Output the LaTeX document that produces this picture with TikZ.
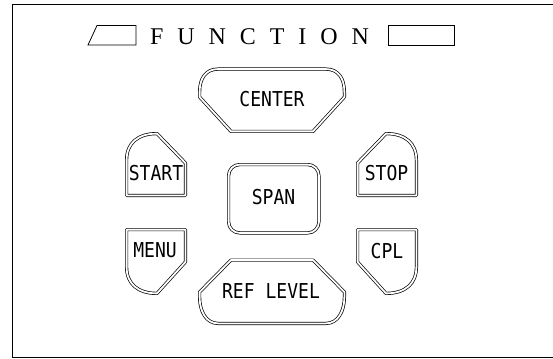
\documentclass[tikz,border=0pt]{standalone}
\usepackage{fontspec}
\setmainfont{Liberation Serif}
\newfontfamily\btnfont[FakeStretch=0.88]{DejaVu Sans Mono}
\newfontfamily\titlefont[LetterSpace=58]{Liberation Serif}
\begin{document}
\begin{tikzpicture}[x=1pt,y=-1pt,
  btn/.style={draw=black, double=white, double distance=1.8pt, line width=0.7pt, line join=round},
  lbl/.style={font=\btnfont\fontsize{20.5}{20.5}\selectfont, inner sep=0pt},
  thinline/.style={draw=black, line width=0.8pt}]
\useasboundingbox (0,0) rectangle (553,358);
\fill[white] (0,0) rectangle (553,358);
% frame
\draw[line width=0.9pt] (556,4.5) -- (12,4.5) -- (12,357) -- (556,357);
% title
\draw[thinline] (88,45) -- (97,25.5) -- (136,25.5) -- (136,45) -- cycle;
\draw[thinline] (388,25.5) rectangle (454,45.5);
\node[anchor=base west, inner sep=0pt, font=\titlefont\fontsize{24}{24}\selectfont] (title) at (150,45) {FUNCTION};
% CENTER
\draw[btn] (231,131.4) -- (313,131.4) -- (344.4,97) -- (344.4,92)
  .. controls (344.4,78) and (338,69.1) .. (326,69.1) -- (218,69.1)
  .. controls (206,69.1) and (199.6,78) .. (199.6,92) -- (199.6,97) -- cycle;
\node[lbl] (center) at (272,99) {CENTER};
% REF LEVEL
\draw[btn] (231,260.1) -- (313,260.1) -- (344.4,292) -- (344.4,297)
  .. controls (344.4,311) and (338,323.4) .. (326,323.4) -- (218,323.4)
  .. controls (206,323.4) and (199.6,311) .. (199.6,297) -- (199.6,292) -- cycle;
\node[lbl] (reflevel) at (271,291.5) {REF LEVEL};
% SPAN
\draw[btn, rounded corners=11pt] (228.6,164.6) rectangle (318.9,232.9);
\node[lbl] (span) at (273.5,197) {SPAN};
% START
\draw[btn] (126.6,195.4) -- (185.4,195.4) -- (185.4,163) -- (157,133.6)
  .. controls (138,133.6) and (126.6,143) .. (126.6,160) -- cycle;
\node[lbl] (start) at (156,173.5) {START};
% STOP
\draw[btn] (416.4,195.4) -- (357.6,195.4) -- (357.6,163) -- (386,133.6)
  .. controls (405,133.6) and (416.4,143) .. (416.4,160) -- cycle;
\node[lbl] (stop) at (386.5,173.5) {STOP};
% MENU
\draw[btn] (126.6,229.6) -- (185.4,229.6) -- (185.4,262) -- (157,293.4)
  .. controls (138,293.4) and (126.6,284) .. (126.6,267) -- cycle;
\node[lbl] (menu) at (155,250.5) {MENU};
% CPL
\draw[btn] (416.4,229.6) -- (357.6,229.6) -- (357.6,262) -- (386,293.4)
  .. controls (405,293.4) and (416.4,284) .. (416.4,267) -- cycle;
\node[lbl] (cpl) at (387,251.5) {CPL};
\end{tikzpicture}
\end{document}
